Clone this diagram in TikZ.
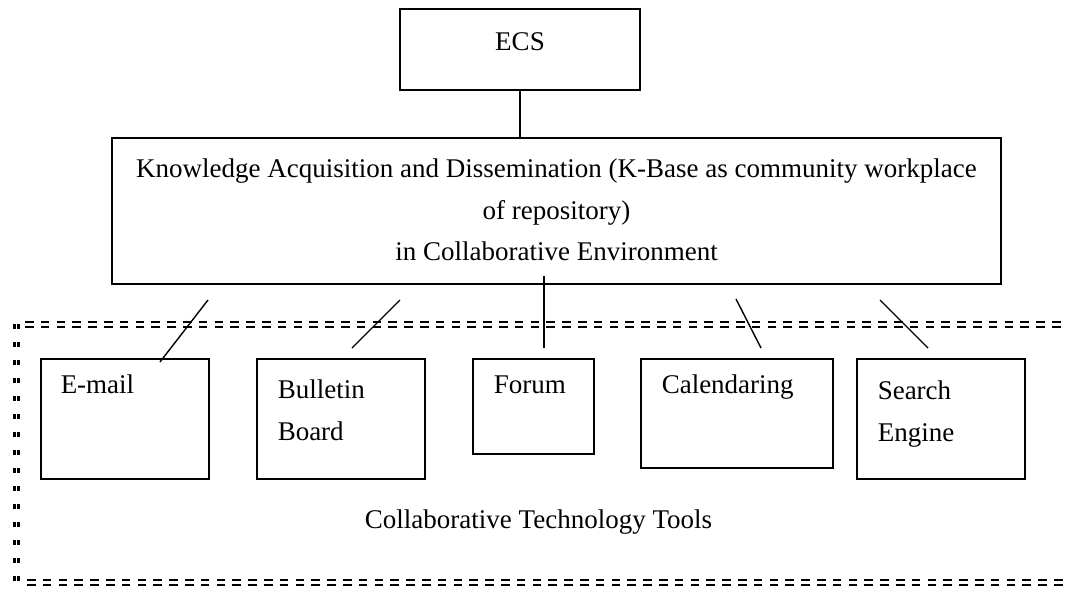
\documentclass[tikz,border=0pt]{standalone}
\usepackage{fontspec}
\setmainfont{Liberation Serif}
\begin{document}
\begin{tikzpicture}[x=1pt,y=-1pt,
	box/.style={draw,line width=1.5pt,inner ysep=0pt,font=\fontsize{27}{41.5}\selectfont},
	tool/.style={box,anchor=north west,align=left},
	frame/.style={line width=2pt,double distance=3pt,dash pattern=on 8.5pt off 7.3pt},
	link/.style={line width=1.4pt}]
	\useasboundingbox (0,0) rectangle (1066,592);
	\node[box,anchor=base,minimum width=240pt,text height=41.7pt,text depth=39.3pt] (ecs) at (520,50.7) {ECS};
	\node[box,anchor=north,text width=869pt,inner xsep=10pt,align=flush center,text height=40pt,text depth=106pt] (kad) at (556.5,137)
	{Knowledge Acquisition and Dissemination (K-Base as community workplace\\of repository)\\in Collaborative Environment};
	\node[tool,text width=128pt,inner xsep=20pt,text height=35pt,text depth=85pt] (email) at (40,358) {E-mail};
	\node[tool,text width=126pt,inner xsep=21pt,text height=40pt,text depth=80pt] (board) at (256,358) {Bulletin\\Board};
	\node[tool,text width=79pt,inner xsep=21pt,text height=35pt,text depth=60pt] (forum) at (472,358) {Forum};
	\node[tool,text width=150pt,inner xsep=21pt,text height=35pt,text depth=74pt] (cal) at (640,358) {Calendaring};
	\node[tool,text width=126pt,inner xsep=21pt,text height=41pt,text depth=79pt] (search) at (856,358) {Search\\Engine};
	\node[font=\fontsize{27}{32}\selectfont,anchor=base] (ctt) at (538.5,528) {Collaborative Technology Tools};
	% dashed frame round the tools
	\draw[frame] (25,324) -- (1066,324);
	\draw[frame] (27,582.5) -- (1066,582.5);
	\draw[frame,double distance=1.5pt,line width=2.3pt,dash pattern=on 5pt off 13pt] (16.5,324) -- (16.5,582);
	\path (208,300) coordinate (e1) (160,362) coordinate (e2)
	(400,300) coordinate (b1) (352,348) coordinate (b2)
	(544,276) coordinate (f1) (544,348) coordinate (f2)
	(736,299) coordinate (c1) (761,348) coordinate (c2)
	(880,300) coordinate (s1) (928,348) coordinate (s2);
	\draw[link] (ecs.south) -- (ecs.south |- kad.north);
	\foreach \a/\b in {e1/e2,b1/b2,f1/f2,c1/c2,s1/s2}{
	\draw[link] (\a) -- (\b);
	}
\end{tikzpicture}
\end{document}
